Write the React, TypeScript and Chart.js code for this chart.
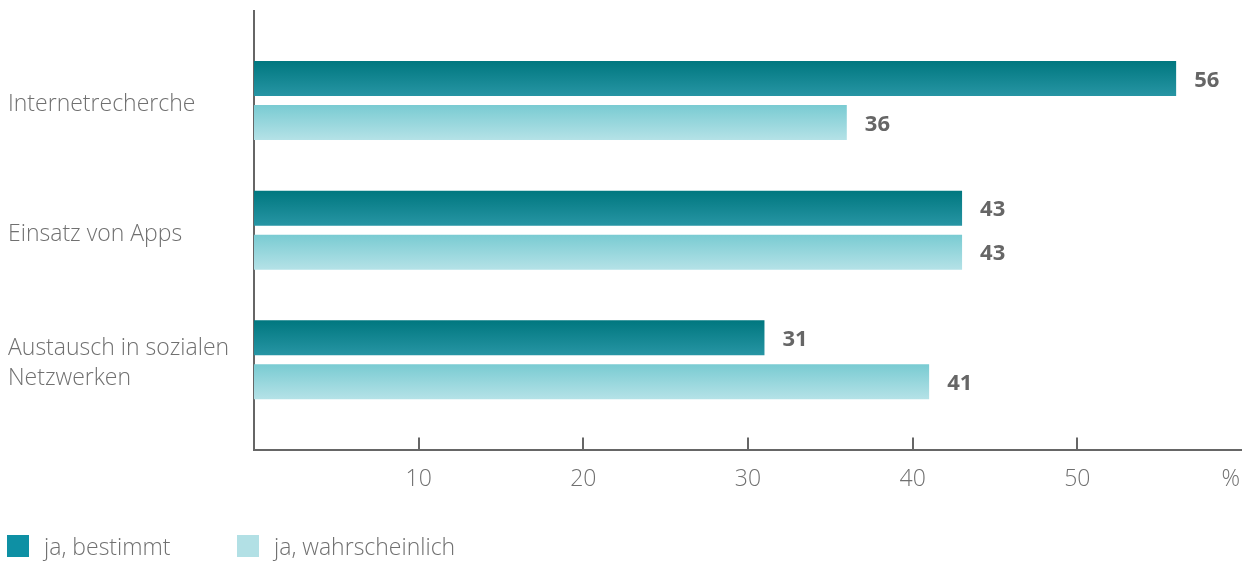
import React, { useEffect, useRef } from 'react';
import { Chart, registerables } from 'chart.js';

Chart.register(...registerables);

// ---- data ----
const categories: (string | string[])[] = [
  'Internetrecherche',
  'Einsatz von Apps',
  ['Austausch in sozialen', 'Netzwerken'],
];
const seriesNames = ['ja, bestimmt', 'ja, wahrscheinlich'];
const bestimmt = [56, 43, 31];
const wahrscheinlich = [36, 43, 41];
const xTickValues = [10, 20, 30, 40, 50];
const xUnit = '%';
const xMax = 60;

// ---- styles ----
const FONT = "'Open Sans', 'Noto Sans', sans-serif";
const gradientStops = [
  ['#00777f', '#2795a4'],
  ['#79cbd2', '#b5e2e7'],
];
const legendColors = ['#0e90a4', '#b2e0e5'];
const legendLeft = [7, 237];
const textColor = '#707070';
const axisColor = '#666666';

const seriesValues = [bestimmt, wahrscheinlich];

const decorPlugin = {
  id: 'decor',
  afterDatasetsDraw(chart: any) {
    const ctx = chart.ctx;
    const area = chart.chartArea;
    ctx.save();
    // value labels
    ctx.font = `bold 22px ${FONT}`;
    ctx.fillStyle = '#666666';
    ctx.textBaseline = 'middle';
    ctx.textAlign = 'left';
    seriesValues.forEach((vals, di) => {
      chart.getDatasetMeta(di).data.forEach((el: any, i: number) => {
        ctx.fillText(String(vals[i]), el.x + 18, el.y + 2);
      });
    });
    // inward tick marks on x axis
    const xs = chart.scales.x;
    ctx.strokeStyle = axisColor;
    ctx.lineWidth = 2;
    xTickValues.forEach((v) => {
      const px = Math.round(xs.getPixelForValue(v));
      ctx.beginPath();
      ctx.moveTo(px, area.bottom);
      ctx.lineTo(px, area.bottom - 13);
      ctx.stroke();
    });
    // unit label
    ctx.font = `300 23px ${FONT}`;
    ctx.fillStyle = textColor;
    ctx.textAlign = 'right';
    ctx.fillText(xUnit, area.right - 2, area.bottom + 29);
    ctx.restore();
  },
};

function makeBg(di: number) {
  return (c: any) => {
    const el = c.element;
    const stops = gradientStops[di];
    if (!el || !isFinite(el.y) || !isFinite(el.height)) return stops[0];
    const g = c.chart.ctx.createLinearGradient(0, el.y - el.height / 2, 0, el.y + el.height / 2);
    g.addColorStop(0, stops[0]);
    g.addColorStop(1, stops[1]);
    return g;
  };
}

const zeroPad = (scale: any) => {
  scale.paddingTop = 0;
  scale.paddingBottom = 0;
  scale.paddingLeft = 0;
  scale.paddingRight = 0;
};

export default function App() {
  const ref = useRef<HTMLCanvasElement | null>(null);

  useEffect(() => {
    if (!ref.current) return;
    const chart = new Chart(ref.current, {
      type: 'bar',
      data: {
        datasets: seriesValues.map((vals, di) => ({
          label: seriesNames[di],
          data: vals.map((v, i) => ({ x: v, y: i + 1 })),
          backgroundColor: makeBg(di),
          borderWidth: 0,
          categoryPercentage: 0.6795,
          barPercentage: 0.7955,
        })),
      },
      options: {
        indexAxis: 'y',
        animation: false,
        responsive: true,
        maintainAspectRatio: false,
        layout: { padding: { left: 8, top: 11, right: 0, bottom: 53 } },
        plugins: {
          legend: { display: false },
          tooltip: { enabled: false },
        },
        scales: {
          y: {
            type: 'linear',
            reverse: true,
            offset: false,
            min: 0.309,
            max: 3.699,
            afterBuildTicks: (scale: any) => {
              scale.ticks = categories.map((_, i) => ({ value: i + 1 }));
            },
            afterFit: (scale: any) => {
              scale.width = 246;
              zeroPad(scale);
            },
            ticks: {
              callback: (v: any) => categories[Math.round(Number(v)) - 1] ?? '',
              crossAlign: 'far',
              labelOffset: 4,
              color: textColor,
              font: { family: FONT, size: 23, weight: '300', lineHeight: 1.3 },
              autoSkip: false,
            },
            grid: { display: false, drawTicks: false },
            border: { display: true, color: axisColor, width: 2 },
          },
          x: {
            type: 'linear',
            min: 0,
            max: xMax,
            offset: false,
            afterFit: (scale: any) => {
              zeroPad(scale);
            },
            ticks: {
              stepSize: 10,
              autoSkip: false,
              maxRotation: 0,
              padding: 15,
              color: textColor,
              font: { family: FONT, size: 23, weight: '300' },
              callback: (v: any) => (xTickValues.includes(Number(v)) ? String(v) : ''),
            },
            grid: { display: false, drawTicks: false },
            border: { display: true, color: axisColor, width: 2 },
          },
        },
      } as any,
      plugins: [decorPlugin],
    });
    chart.update();
    return () => chart.destroy();
  }, []);

  return (
    <div style={{ position: 'fixed', left: 0, top: 0, width: 1242, height: 561, background: '#fff' }}>
      <canvas ref={ref} />
      {seriesNames.map((name, i) => (
        <div
          key={name}
          style={{
            position: 'absolute',
            left: legendLeft[i],
            top: 535,
            height: 22,
            display: 'flex',
            alignItems: 'center',
          }}
        >
          <span style={{ width: 22, height: 22, background: legendColors[i], display: 'inline-block', flex: 'none' }} />
          <span
            style={{
              marginLeft: 15,
              fontFamily: FONT,
              fontSize: 23,
              fontWeight: 300,
              color: textColor,
              whiteSpace: 'nowrap',
              lineHeight: '22px',
            }}
          >
            {name}
          </span>
        </div>
      ))}
    </div>
  );
}
